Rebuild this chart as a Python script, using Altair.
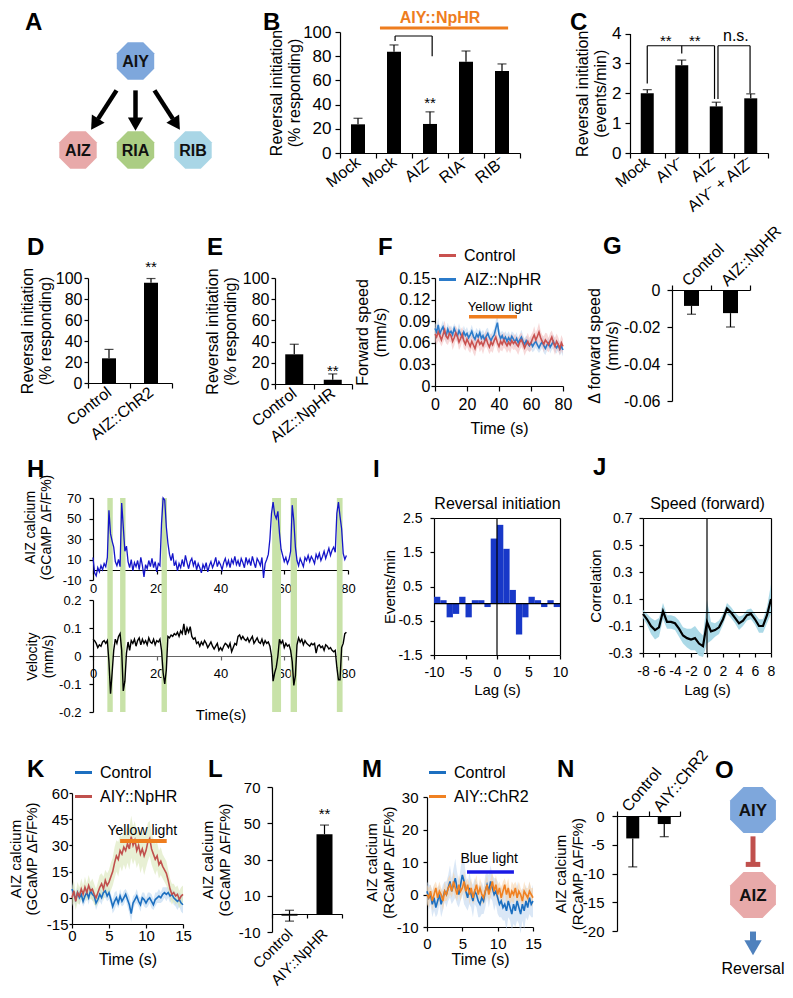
import math
import altair as alt
import pandas as pd

FONT = "Liberation Sans"
W, H = 777, 982

# ------------------------------------------------------------------ data
A_nodes = ["AIY", "AIZ", "RIA", "RIB"]
A_col = [1, 0, 1, 2]
A_row = [0, 1, 1, 1]
A_colors = ["#7ea7dc", "#e8a9a9", "#abcd83", "#a9d6e6"]
A_targets = ["AIZ", "RIA", "RIB"]

B_cats = ["Mock", "Mock2", "AIZ⁻", "RIA⁻", "RIB⁻"]
B_vals = [23.7, 83.7, 24.0, 75.5, 67.8]
B_errs = [5.0, 5.6, 10.0, 8.8, 5.8]

C_cats = ["Mock", "AIY⁻", "AIZ⁻", "AIY⁻ + AIZ⁻"]
C_vals = [2.0, 2.94, 1.56, 1.83]
C_errs = [0.12, 0.17, 0.14, 0.15]

D_cats = ["Control", "AIZ::ChR2"]
D_vals = [23.5, 95.5]
D_errs = [8.5, 4.0]

E_cats = ["Control", "AIZ::NpHR"]
E_vals = [28.0, 4.0]
E_errs = [9.5, 5.5]

F_series = ["Control", "AIZ::NpHR"]
F_ctrl = [0.072, 0.068, 0.075, 0.070, 0.064, 0.071, 0.078, 0.069, 0.066, 0.073,
          0.070, 0.062, 0.067, 0.074, 0.069, 0.061, 0.066, 0.072, 0.063, 0.058,
          0.065, 0.060, 0.055, 0.062, 0.057, 0.052, 0.060, 0.064, 0.058, 0.061,
          0.056, 0.062, 0.066, 0.059, 0.054, 0.061, 0.057, 0.063, 0.068, 0.060,
          0.055, 0.062, 0.058, 0.064, 0.060, 0.056, 0.061, 0.057, 0.063, 0.059,
          0.062, 0.058, 0.055, 0.061, 0.064, 0.059, 0.053, 0.058, 0.062, 0.057,
          0.060, 0.066, 0.071, 0.064, 0.069, 0.075, 0.067, 0.062, 0.058, 0.064,
          0.061, 0.057, 0.063, 0.068, 0.060, 0.055, 0.062, 0.058, 0.052, 0.060,
          0.055]
F_ctrl_sem = [0.010, 0.011, 0.012, 0.010, 0.009, 0.011, 0.013, 0.010, 0.009, 0.011,
              0.010, 0.012, 0.011, 0.010, 0.009, 0.011, 0.012, 0.010, 0.011, 0.009,
              0.010, 0.011, 0.009, 0.010, 0.012, 0.011, 0.010, 0.009, 0.011, 0.010,
              0.012, 0.010, 0.011, 0.009, 0.010, 0.012, 0.011, 0.010, 0.009, 0.011,
              0.010, 0.012, 0.010, 0.011, 0.009, 0.010, 0.011, 0.012, 0.010, 0.009,
              0.011, 0.010, 0.012, 0.011, 0.010, 0.009, 0.011, 0.010, 0.012, 0.010,
              0.011, 0.009, 0.012, 0.010, 0.011, 0.013, 0.010, 0.009, 0.011, 0.010,
              0.012, 0.010, 0.011, 0.009, 0.010, 0.012, 0.011, 0.010, 0.009, 0.011,
              0.010]
F_nphr = [0.080, 0.075, 0.085, 0.072, 0.078, 0.082, 0.074, 0.070, 0.079, 0.073,
          0.076, 0.071, 0.080, 0.074, 0.069, 0.077, 0.072, 0.068, 0.075, 0.070,
          0.073, 0.067, 0.071, 0.076, 0.069, 0.065, 0.072, 0.068, 0.074, 0.066,
          0.070, 0.064, 0.069, 0.073, 0.067, 0.063, 0.068, 0.071, 0.080, 0.088,
          0.072, 0.066, 0.070, 0.064, 0.068, 0.062, 0.067, 0.063, 0.069, 0.065,
          0.061, 0.066, 0.060, 0.064, 0.068, 0.062, 0.058, 0.063, 0.059, 0.056,
          0.060, 0.055, 0.059, 0.062, 0.057, 0.053, 0.058, 0.061, 0.056, 0.052,
          0.057, 0.060, 0.054, 0.058, 0.062, 0.056, 0.053, 0.057, 0.051, 0.055,
          0.050]
F_nphr_sem = [0.008, 0.009, 0.010, 0.008, 0.007, 0.009, 0.008, 0.010, 0.009, 0.008,
              0.008, 0.009, 0.007, 0.008, 0.009, 0.010, 0.008, 0.007, 0.009, 0.008,
              0.009, 0.008, 0.007, 0.009, 0.008, 0.010, 0.009, 0.008, 0.007, 0.009,
              0.008, 0.009, 0.010, 0.008, 0.007, 0.009, 0.008, 0.009, 0.011, 0.012,
              0.009, 0.008, 0.007, 0.009, 0.008, 0.010, 0.009, 0.008, 0.007, 0.009,
              0.008, 0.009, 0.007, 0.008, 0.010, 0.009, 0.008, 0.007, 0.009, 0.008,
              0.009, 0.008, 0.010, 0.009, 0.008, 0.007, 0.009, 0.008, 0.010, 0.009,
              0.008, 0.007, 0.009, 0.008, 0.010, 0.009, 0.008, 0.007, 0.009, 0.008,
              0.009]
F_light = [21.25, 51.25]

G_cats = ["Control", "AIZ::NpHR"]
G_vals = [-0.0086, -0.0125]
G_errs = [0.0045, 0.0075]

H_ca = [12, -3, -6, 2, -2, 4, 0, 6, 3, 12,
        58, 35, 28, 22, 8, 4, 10, 3, 65, 42,
        18, 23, 8, 2, 10, -1, 7, 3, 9, 0,
        12, 4, -7, 5, 1, 9, 3, 11, 2, 8,
        -2, 6, 4, 45, 70, 68, 42, 26, 15, 9,
        16, 4, 8, -1, 6, 2, 10, 3, 14, 7,
        1, 8, 11, 4, 9, 0, 6, 2, -3, 5,
        1, 7, -2, 4, 8, 2, 6, 12, 3, 8,
        5, 0, 7, 11, 4, 9, 2, 10, 6, 13,
        5, 9, 3, 11, 7, 2, 12, 6, 10, 4,
        13, 7, 2, 11, 8, 4, 12, -8, 6, 10,
        15, 30, 55, 66, 54, 50, 57, 36, 20, 14,
        8, 12, 6, 10, 18, 63, 48, 22, 9, 4,
        11, 7, 3, 12, 9, 14, 8, 13, 10, 6,
        15, 11, 16, 9, 13, 18, 11, 16, 21, 14,
        19, 22, 17, 55, 66, 52, 40, 16, 10, 14]
H_vel = [0.060, 0.055, 0.045, 0.030, 0.040, 0.035, 0.050, 0.055, 0.045, 0.055,
         -0.020, -0.135, -0.060, 0.020, 0.060, 0.045, 0.070, 0.080, 0.020, -0.125,
         -0.090, 0.010, 0.050, 0.020, 0.055, 0.045, 0.060, 0.035, 0.055, 0.065,
         0.040, 0.060, 0.045, 0.055, 0.040, 0.065, 0.050, 0.045, 0.060, 0.040,
         0.055, 0.050, 0.060, 0.020, -0.060, -0.100, -0.050, 0.070, 0.065, 0.075,
         0.070, 0.080, 0.075, 0.085, 0.070, 0.090, 0.080, 0.115, 0.075, 0.100,
         0.085, 0.105, 0.070, 0.060, 0.065, 0.045, 0.050, 0.035, 0.050, 0.040,
         0.055, 0.045, 0.030, 0.040, 0.050, 0.035, 0.025, 0.035, 0.045, 0.020,
         0.030, 0.020, 0.035, 0.045, 0.040, 0.030, 0.045, 0.015, 0.030, 0.045,
         0.040, 0.070, 0.075, 0.060, 0.070, 0.060, 0.055, 0.065, 0.050, 0.060,
         0.070, 0.045, 0.055, 0.065, 0.050, 0.045, 0.060, 0.040, 0.055, 0.045,
         0.050, 0.035, 0.000, -0.090, -0.060, -0.040, 0.000, 0.060, 0.045, 0.055,
         0.030, 0.045, 0.035, 0.040, 0.020, -0.020, -0.105, -0.070, 0.040, 0.065,
         0.050, 0.060, 0.040, 0.055, 0.045, 0.040, 0.035, 0.045, 0.040, 0.045,
         0.010, 0.035, 0.040, 0.030, 0.035, 0.020, 0.040, 0.035, 0.025, 0.030,
         0.020, 0.015, 0.020, -0.040, -0.085, -0.085, 0.030, 0.045, 0.080, 0.085]
H_band_start = [4.5, 8.5, 21.5, 56.2, 62.0, 76.5]
H_band_end = [6.2, 10.2, 23.2, 59.0, 64.0, 78.3]

I_bin_start = list(range(-10, 10))
I_vals = [0.2, 0.1, -0.4, -0.3, 0.2, -0.4, 0.1, 0.1, -0.1, 1.9,
          2.3, 1.6, 0.4, -0.9, -0.4, 0.2, 0.1, -0.1, 0.1, -0.1]

J_lag = [-8 + 0.5 * i for i in range(33)]
J_corr = [-0.01, -0.05, -0.10, -0.13, -0.11, 0.01, -0.07, -0.07, -0.08, -0.12,
          -0.17, -0.19, -0.20, -0.19, -0.23, -0.25, -0.07, -0.14, -0.13, -0.11,
          -0.05, 0.03, 0.00, -0.04, -0.08, -0.06, -0.02, -0.01, -0.05, -0.10,
          -0.10, -0.02, 0.10]
J_sem = [0.03, 0.04, 0.06, 0.07, 0.07, 0.06, 0.05, 0.05, 0.05, 0.06,
         0.06, 0.07, 0.08, 0.09, 0.09, 0.08, 0.16, 0.07, 0.05, 0.05,
         0.04, 0.04, 0.04, 0.04, 0.05, 0.04, 0.04, 0.04, 0.04, 0.05,
         0.05, 0.06, 0.11]

K_series = ["Control", "AIY::NpHR"]
K_ctrl = [5, 2, -1, 3, 0, 2, -2, 1, 3, 0,
          4, 2, 1, -3, -1, 2, 0, 3, 4, 1,
          3, -1, -5, -2, 0, -3, 1, -2, 0, 2,
          -1, -4, -9, -3, -1, 1, -2, -4, 0, -1,
          -3, -1, 0, -2, -4, -1, 0, 1, 0, 2,
          3, 2, 3, 1, 2, 0, -1, -2, -1, -3,
          -4]
K_ctrl_sem = [4, 3, 4, 3, 4, 3, 3, 4, 3, 4,
              3, 4, 3, 4, 3, 4, 4, 3, 4, 3,
              4, 3, 4, 5, 4, 3, 4, 3, 4, 3,
              4, 5, 5, 4, 3, 4, 3, 4, 3, 4,
              3, 4, 3, 4, 3, 4, 3, 4, 3, 4,
              3, 4, 3, 4, 3, 4, 4, 5, 4, 5,
              5]
K_nphr = [0, 4, -2, 3, 1, 5, 2, 6, 3, 7,
          4, 5, 2, 0, 3, 6, 8, 5, 10, 7,
          9, 12, 15, 20, 24, 22, 27, 25, 29, 27,
          31, 28, 35, 30, 33, 27, 30, 25, 28, 24,
          27, 32, 34, 28, 25, 22, 24, 19, 21, 18,
          16, 14, 10, 5, 2, 3, 1, 2, -1, 1,
          2]
K_nphr_sem = [5, 6, 5, 6, 5, 6, 5, 6, 5, 6,
              5, 6, 6, 5, 6, 7, 6, 7, 6, 7,
              7, 8, 8, 9, 9, 10, 9, 10, 10, 11,
              11, 12, 12, 11, 11, 10, 10, 11, 10, 11,
              10, 11, 10, 9, 9, 9, 8, 8, 8, 7,
              7, 7, 6, 6, 6, 5, 5, 5, 5, 5,
              5]
K_light = [6.5, 12.8]

L_cats = ["Control", "AIY::NpHR"]
L_vals = [-1.0, 44.0]
L_errs = [3.0, 5.0]

M_series = ["Control", "AIY::ChR2"]
M_ctrl = [1, -1, 0, -3, -1, -4, -2, 0, -3, -1,
          1, 0, 2, 4, 1, 3, 5, 2, 0, 3,
          6, 4, 1, -1, 2, 0, -2, 1, 0, -2,
          -3, -1, -2, 1, 3, 1, 4, 2, 0, 1,
          -1, -3, -2, -4, -3, -5, -2, -4, -6, -3,
          -5, -2, -4, -6, -3, -5, -2, -4, -1, -3,
          -2]
M_ctrl_sem = [3, 4, 3, 4, 4, 3, 4, 3, 4, 4,
              3, 4, 4, 5, 4, 5, 6, 5, 4, 5,
              6, 7, 5, 4, 5, 4, 5, 4, 4, 5,
              4, 5, 4, 5, 4, 5, 5, 4, 5, 4,
              5, 4, 5, 4, 5, 6, 5, 4, 5, 6,
              5, 6, 5, 6, 5, 6, 5, 4, 5, 4,
              5]
M_chr2 = [0, -1, 1, -2, 0, 2, -1, 1, 0, -2,
          1, 0, 2, 3, 1, 4, 2, 0, 3, 1,
          2, 4, 1, 3, 0, 2, -1, 1, 3, 0,
          2, 0, -1, 1, 3, 0, 2, 4, 1, 3,
          0, 2, -1, 1, 3, 0, 2, -1, 1, 0,
          2, -1, 1, 0, -2, 1, 0, -1, 1, 0,
          -1]
M_chr2_sem = [3, 3, 2, 3, 3, 2, 3, 3, 2, 3,
              3, 2, 3, 3, 2, 3, 3, 2, 3, 3,
              2, 3, 3, 2, 3, 3, 2, 3, 3, 2,
              3, 3, 2, 3, 3, 2, 3, 3, 2, 3,
              3, 2, 3, 3, 2, 3, 3, 2, 3, 3,
              2, 3, 3, 2, 3, 3, 2, 3, 3, 2,
              3]
M_light = [5.66, 12.3]

N_cats = ["Control", "AIY::ChR2"]
N_vals = [-3.9, -1.4]
N_errs = [4.95, 2.2]

O_nodes = ["AIY", "AIZ"]
O_rows = [0, 1]
O_colors = ["#7ea7dc", "#e8a9a9"]
O_output = "Reversal"

# ------------------------------------------------------------------ helpers
NUM_LABEL = "'' + datum.value"
OCT = "M-0.414,-1L0.414,-1L1,-0.414L1,0.414L0.414,1L-0.414,1L-1,0.414L-1,-0.414Z"


def tx(v):
    return v - 8


def ty(v):
    return v - 8


def lin(dom, a, b):
    return alt.Scale(domain=dom, range=[a, b], nice=False, zero=False)


def xlin(dom, x0, x1):
    return lin(dom, tx(x0), tx(x1))


def ylin(dom, y_bottom, y_top):
    return lin(dom, ty(y_bottom), ty(y_top))


def xband(cats, x0, x1):
    return alt.Scale(domain=cats, range=[tx(x0), tx(x1)], paddingInner=0, paddingOuter=0)


def axis(orient, pos, title=None, fs=16, tfs=16, lh=None, **kw):
    if orient == "left":
        off = -tx(pos)
    elif orient == "right":
        off = tx(pos) - W
    elif orient == "bottom":
        off = ty(pos) - H
    else:
        off = -ty(pos)
    lh = lh if lh is not None else tfs + 2
    # a multi-line left title is anchored at its first line: shift so the
    # requested titleX is the right edge of the whole block
    if orient == "left" and isinstance(title, list) and "titleX" in kw:
        kw["titleX"] = kw["titleX"] - (len(title) - 1) * lh
    d = dict(orient=orient, offset=off, grid=False, domainColor="black",
             tickColor="black", labelColor="black", labelFont=FONT,
             labelFontSize=fs, titleFont=FONT, titleFontSize=tfs,
             titleFontWeight="normal", titleColor="black", tickSize=5,
             labelPadding=3, labelFlush=False, labelOverlap=False,
             titleLineHeight=lh, domainWidth=1.2, tickWidth=1.2,
             title=title)
    d.update(kw)
    return alt.Axis(**d)


def qaxis(orient, pos, title=None, fs=16, tfs=16, **kw):
    return axis(orient, pos, title=title, fs=fs, tfs=tfs, labelExpr=NUM_LABEL, **kw)


def bar_panel(cats, vals, errs, xs, ys, xax, yax, size, cap=9, dirs=None):
    n = len(cats)
    dirs = dirs or ["up"] * n
    df = pd.DataFrame({"cat": cats, "v": vals, "z": [0.0] * n})
    tips = []
    for c, v, e, d in zip(cats, vals, errs, dirs):
        if d in ("up", "both"):
            tips.append({"cat": c, "v": v, "tip": v + e})
        if d in ("down", "both"):
            tips.append({"cat": c, "v": v, "tip": v - e})
    dt = pd.DataFrame(tips)
    rule = alt.Chart(dt).mark_rule(color="black", strokeWidth=1.2).encode(
        x=alt.X("cat:N", scale=xs, axis=None),
        y=alt.Y("v:Q", scale=ys, axis=None), y2="tip")
    bars = alt.Chart(df).mark_bar(color="black", size=size).encode(
        x=alt.X("cat:N", scale=xs, axis=xax),
        y=alt.Y("v:Q", scale=ys, axis=yax), y2="z")
    capm = alt.Chart(dt).mark_tick(color="black", size=cap, thickness=1.2,
                                   orient="horizontal").encode(
        x=alt.X("cat:N", scale=xs, axis=None),
        y=alt.Y("tip:Q", scale=ys, axis=None))
    return [rule, bars, capm]


def segs(df, xs, ys, **mk):
    return alt.Chart(df).mark_rule(**mk).encode(
        x=alt.X("x0:Q", scale=xs, axis=None), x2="x1",
        y=alt.Y("y0:Q", scale=ys, axis=None), y2="y1")


def texts(df, xs, ys, xtype="Q", **mk):
    return alt.Chart(df).mark_text(font=FONT, **mk).encode(
        x=alt.X("x:" + xtype, scale=xs, axis=None),
        y=alt.Y("y:Q", scale=ys, axis=None), text="txt:N")


def trace_panel(order, draw, data, colors, band_colors, xs, ys, xax, yax,
                legend, sw=1.6, band_opacity=0.55):
    rows = []
    for name in draw:
        ts, vs, ss = data[name]
        for t, v, s in zip(ts, vs, ss):
            rows.append({"t": t, "v": v, "s": s, "series": name})
    df = pd.DataFrame(rows)
    band = alt.Chart(df).transform_calculate(
        lo="datum.v - datum.s", hi="datum.v + datum.s").mark_area(
        opacity=band_opacity).encode(
        x=alt.X("t:Q", scale=xs, axis=xax),
        y=alt.Y("lo:Q", scale=ys, axis=yax), y2="hi",
        fill=alt.Fill("series:N", scale=alt.Scale(domain=order, range=band_colors),
                      legend=None))
    line = alt.Chart(df).mark_line(strokeWidth=sw).encode(
        x=alt.X("t:Q", scale=xs, axis=None),
        y=alt.Y("v:Q", scale=ys, axis=None),
        color=alt.Color("series:N", scale=alt.Scale(domain=order, range=colors),
                        legend=legend))
    return [band, line]


def legend_at(x, y):
    return alt.Legend(orient="none", legendX=tx(x), legendY=ty(y), title=None,
                      symbolType="stroke", symbolStrokeWidth=3, symbolSize=290,
                      labelFont=FONT, labelFontSize=16, labelColor="black",
                      rowPadding=5, labelOffset=6, padding=0)


def stars(cat, v, xs, ys, size=15):
    df = pd.DataFrame({"x": [cat], "y": [v], "txt": ["**"]})
    return texts(df, xs, ys, xtype="N", fontSize=size, baseline="middle", dy=3,
                 color="black")


def letter(ch, x, y):
    return alt.Chart(pd.DataFrame({"t": [ch]})).mark_text(
        font=FONT, fontSize=24, fontWeight="bold", align="left",
        baseline="alphabetic", color="black").encode(
        text="t:N", x=alt.value(tx(x)), y=alt.value(ty(y)))


layers = []

# ------------------------------------------------------------------ A (diagram)
A_x = xlin([0, 2], 78, 193)
A_y = lin([0, 1], ty(61), ty(150))
ux, uy = (193 - 78) / 2, (150 - 61) / 1
arr = []
pc, pr = A_col[0], A_row[0]
for name in A_targets:
    i = A_nodes.index(name)
    dc, dr = A_col[i] - pc, A_row[i] - pr
    ang = math.degrees(math.atan2(-dc * ux, dr * uy)) % 360
    arr.append(dict(x0=pc + 0.33 * dc, y0=pr + 0.33 * dr,
                    x1=pc + 0.65 * dc, y1=pr + 0.65 * dr,
                    hx=pc + 0.71 * dc, hy=pr + 0.71 * dr, ang=ang))
dfA_arr = pd.DataFrame(arr)
layers.append(segs(dfA_arr, A_x, A_y, color="black", strokeWidth=4.5))
layers.append(alt.Chart(dfA_arr).mark_point(shape="triangle-down", filled=True,
                                            size=230, color="black", opacity=1).encode(
    x=alt.X("hx:Q", scale=A_x, axis=None), y=alt.Y("hy:Q", scale=A_y, axis=None),
    angle=alt.Angle("ang:Q", scale=None)))
dfA = pd.DataFrame({"node": A_nodes, "c": A_col, "r": A_row})
layers.append(alt.Chart(dfA).mark_point(shape=OCT, filled=True, size=1400, opacity=1).encode(
    x=alt.X("c:Q", scale=A_x, axis=None), y=alt.Y("r:Q", scale=A_y, axis=None),
    color=alt.Color("node:N", scale=alt.Scale(domain=A_nodes, range=A_colors), legend=None)))
layers.append(alt.Chart(dfA).mark_text(font=FONT, fontSize=16, fontWeight="bold",
                                       color="#111111", dy=1).encode(
    x=alt.X("c:Q", scale=A_x, axis=None), y=alt.Y("r:Q", scale=A_y, axis=None),
    text="node:N"))

# ------------------------------------------------------------------ B
bx = xband(B_cats, 340, 520)
by = ylin([0, 100], 153, 32)
xB = axis("bottom", 153, fs=16, labelAngle=-38, labelAlign="right",
          labelBaseline="middle", tickBand="extent", labelPadding=2,
          labelExpr="datum.value == 'Mock2' ? 'Mock' : datum.value")
yB = qaxis("left", 340, title=["Reversal initiation", "(% responding)"], fs=17,
           tfs=16, values=[0, 20, 40, 60, 80, 100], titleX=302 - 340, labelPadding=4)
layers += bar_panel(B_cats, B_vals, B_errs, bx, by, xB, yB, size=14)
B_idx = xlin([0, 5], 340, 520)
layers.append(segs(pd.DataFrame({"x0": [1.53, 1.53, 2.56], "x1": [1.53, 2.56, 2.56],
                                 "y0": [92.5, 96.7, 96.7], "y1": [96.7, 96.7, 80.0]}),
                   B_idx, by, color="black", strokeWidth=1.2))
layers.append(segs(pd.DataFrame({"x0": [1.11], "x1": [4.67], "y0": [103.3], "y1": [103.3]}),
                   B_idx, by, color="#ee7d1e", strokeWidth=3))
layers.append(texts(pd.DataFrame({"x": [2.78], "y": [111.8], "txt": ["AIY::NpHR"]}),
                    B_idx, by, fontSize=16, fontWeight="bold", color="#ee7d1e",
                    baseline="middle"))
layers.append(stars("AIZ⁻", 43.8, bx, by))

# ------------------------------------------------------------------ C
cx = xband(C_cats, 630, 768)
cy = ylin([0, 4], 153, 33.5)
xC = axis("bottom", 153, fs=16, labelAngle=-38, labelAlign="right",
          labelBaseline="middle", tickBand="extent", labelPadding=2)
yC = qaxis("left", 630, title=["Reversal initiation", "(events/min)"], fs=17, tfs=16,
           values=[0, 1, 2, 3, 4], titleX=608 - 630, labelPadding=4)
layers += bar_panel(C_cats, C_vals, C_errs, cx, cy, xC, yC, size=13)
C_idx = xlin([0, 4], 630, 768)
layers.append(segs(pd.DataFrame({
    "x0": [0.5, 0.5, 2.45, 1.5, 2.55, 2.55, 3.48],
    "x1": [0.5, 2.45, 2.45, 1.5, 2.55, 3.48, 3.48],
    "y0": [2.33, 3.59, 3.59, 3.33, 1.81, 3.59, 3.59],
    "y1": [3.59, 3.59, 1.81, 3.59, 3.59, 3.59, 2.0]}), C_idx, cy, color="black",
    strokeWidth=1.2))
layers.append(texts(pd.DataFrame({"x": [1.04, 1.88], "y": [3.86, 3.86], "txt": ["**", "**"]}),
                    C_idx, cy, fontSize=15, baseline="middle", dy=3, color="black"))
layers.append(texts(pd.DataFrame({"x": [3.07], "y": [3.9], "txt": ["n.s."]}),
                    C_idx, cy, fontSize=16, baseline="middle", color="black"))

# ------------------------------------------------------------------ D
dx_ = xband(D_cats, 88, 172)
dy_ = ylin([0, 100], 383, 278)
xD = axis("bottom", 383, fs=16, labelAngle=-38, labelAlign="right",
          labelBaseline="middle", tickBand="extent", labelPadding=2)
yD = qaxis("left", 88, title=["Reversal initiation", "(% responding)"], fs=16, tfs=16,
           values=[0, 20, 40, 60, 80, 100], titleX=53 - 88, tickSize=4, labelPadding=2)
layers += bar_panel(D_cats, D_vals, D_errs, dx_, dy_, xD, yD, size=14)
layers.append(stars("AIZ::ChR2", 113, dx_, dy_))

# ------------------------------------------------------------------ E
ex = xband(E_cats, 275, 352)
ey = ylin([0, 100], 384, 278)
xE = axis("bottom", 384, fs=16, labelAngle=-38, labelAlign="right",
          labelBaseline="middle", tickBand="extent", labelPadding=2)
yE = qaxis("left", 275, title=["Reversal initiation", "(% responding)"], fs=16, tfs=16,
           values=[0, 20, 40, 60, 80, 100], titleX=238 - 275, tickSize=4, labelPadding=2)
layers += bar_panel(E_cats, E_vals, E_errs, ex, ey, xE, yE, size=18)
layers.append(stars("AIZ::NpHR", 15, ex, ey))

# ------------------------------------------------------------------ F
fx = xlin([0, 80], 435, 563)
fy = ylin([0, 0.15], 386, 278)
xF = qaxis("bottom", 386, title="Time (s)", fs=16, tfs=16, values=[0, 20, 40, 60, 80],
           labelPadding=5, titleY=34)
yF = qaxis("left", 435, title=["Forward speed", "(mm/s)"], fs=16, tfs=16,
           values=[0, 0.03, 0.06, 0.09, 0.12, 0.15], titleX=-47, tickSize=4, labelPadding=1)
t81 = list(range(len(F_ctrl)))
layers += trace_panel(F_series, ["AIZ::NpHR", "Control"],
                      {"Control": (t81, F_ctrl, F_ctrl_sem),
                       "AIZ::NpHR": (t81, F_nphr, F_nphr_sem)},
                      ["#c9514f", "#2b7bca"], ["#f1b9b9", "#b9d3ee"], fx, fy, xF, yF,
                      legend_at(437, 245))
layers.append(segs(pd.DataFrame({"x0": [F_light[0]], "x1": [F_light[1]],
                                 "y0": [0.0963], "y1": [0.0963]}),
                   fx, fy, color="#ee7d1e", strokeWidth=3.5))
layers.append(texts(pd.DataFrame({"x": [40.6], "y": [0.1095], "txt": ["Yellow light"]}),
                    fx, fy, fontSize=13, baseline="middle", color="black"))

# ------------------------------------------------------------------ G
gx = xband(G_cats, 672, 750)
gy = ylin([-0.06, 0], 401, 290)
xG = axis("top", 290, fs=16, labelAngle=-45, labelAlign="left", labelBaseline="middle",
          tickBand="extent", labelPadding=2, labelOffset=-7)
yG = qaxis("left", 672, title=["Δ forward speed", "(mm/s)"], fs=16, tfs=16,
           values=[0, -0.02, -0.04, -0.06], titleX=-52, labelPadding=7)
layers += bar_panel(G_cats, G_vals, G_errs, gx, gy, xG, yG, size=15, dirs=["down", "down"])

# ------------------------------------------------------------------ H
hx = xlin([0, 80], 93, 348)
h1y = ylin([-10, 70], 580, 498)
h2y = ylin([-0.2, 0.2], 712, 600)
hb_y = lin([0, 1], ty(712), ty(498))
dfHb = pd.DataFrame({"s": H_band_start, "e": H_band_end})
layers.append(alt.Chart(dfHb).mark_rect(color="#c8e2a8", opacity=1).encode(
    x=alt.X("s:Q", scale=hx, axis=None), x2="e",
    y=alt.YDatum(0, scale=hb_y, axis=None, type="quantitative"), y2=alt.Y2Datum(1)))
tH = [0.5 * i for i in range(len(H_ca))]
xH1 = qaxis("bottom", 570, fs=13, values=[0, 20, 40, 60, 80], tickSize=4, labelPadding=8)
yH1 = qaxis("left", 93, title=["AIZ calcium", "(GCaMP ΔF/F%)"], fs=13, tfs=14,
            values=[-10, 10, 30, 50, 70], titleX=-40, titleY=ty(527), tickSize=4,
            labelPadding=8)
layers.append(alt.Chart(pd.DataFrame({"t": tH, "v": H_ca})).mark_line(
    color="#1515c9", strokeWidth=1.3).encode(
    x=alt.X("t:Q", scale=hx, axis=xH1), y=alt.Y("v:Q", scale=h1y, axis=yH1)))
tV = [0.5 * i for i in range(len(H_vel))]
xH2 = qaxis("bottom", 656, title="Time(s)", fs=13, tfs=15, values=[0, 20, 40, 60, 80],
            tickSize=4, labelPadding=7, domainColor="#666666", tickColor="#666666",
            titleY=51)
yH2 = qaxis("left", 93, title=["Velocity", "(mm/s)"], fs=13, tfs=14,
            values=[-0.2, -0.1, 0, 0.1, 0.2], titleX=-38, tickSize=4, labelPadding=8)
layers.append(alt.Chart(pd.DataFrame({"t": tV, "v": H_vel})).mark_line(
    color="black", strokeWidth=1.4).encode(
    x=alt.X("t:Q", scale=hx, axis=xH2), y=alt.Y("v:Q", scale=h2y, axis=yH2)))

# ------------------------------------------------------------------ I
ix = xlin([-10, 10], 434, 560)
iy = ylin([-1.5, 2.5], 655, 518)
dfI = pd.DataFrame({"s": I_bin_start, "e": [s + 1 for s in I_bin_start], "v": I_vals,
                    "z": [0.0] * len(I_vals)})
xI = qaxis("bottom", 655, title="Lag (s)", fs=14, tfs=15, values=[-10, -5, 0, 5, 10],
           tickSize=4, labelPadding=6, titleY=27)
yI = qaxis("left", 434, title="Events/min", fs=14, tfs=15,
           values=[-1.5, -0.5, 0.5, 1.5, 2.5], titleX=-37, tickSize=4, labelPadding=8)
layers.append(alt.Chart(dfI).mark_rect(color="#1838c8").encode(
    x=alt.X("s:Q", scale=ix, axis=xI), x2="e",
    y=alt.Y("v:Q", scale=iy, axis=yI), y2="z"))
layers.append(segs(pd.DataFrame({"x0": [-10, 0], "x1": [10, 0], "y0": [0, -1.5],
                                 "y1": [0, 2.5]}), ix, iy, color="black", strokeWidth=1.2))
layers.append(alt.Chart(pd.DataFrame({"a": [0]})).mark_point(opacity=0).encode(
    x=alt.X("a:Q", scale=ix, axis=axis("top", 518, title="Reversal initiation", tfs=16,
                                       labels=False, ticks=False, titlePadding=7)),
    y=alt.Y("a:Q", scale=iy, axis=axis("right", 560, labels=False, ticks=False))))

# ------------------------------------------------------------------ J
jx = xlin([-8, 8], 643, 771)
jy = ylin([-0.3, 0.7], 653, 518)
dfJ = pd.DataFrame({"t": J_lag, "v": J_corr, "s": J_sem})
xJ = qaxis("bottom", 653, title="Lag (s)", fs=14, tfs=15,
           values=[-8, -6, -4, -2, 0, 2, 4, 6, 8], tickSize=4, labelPadding=7, titleY=29)
yJ = qaxis("left", 643, title="Correlation", fs=14, tfs=15,
           values=[-0.3, -0.1, 0.1, 0.3, 0.5, 0.7], titleX=-40, tickSize=4, labelPadding=7)
layers.append(alt.Chart(dfJ).transform_calculate(
    lo="datum.v - datum.s", hi="datum.v + datum.s").mark_area(
    color="#a7d7e6", opacity=0.95).encode(
    x=alt.X("t:Q", scale=jx, axis=xJ), y=alt.Y("lo:Q", scale=jy, axis=yJ), y2="hi"))
layers.append(segs(pd.DataFrame({"x0": [-8, 0], "x1": [8, 0], "y0": [0, -0.3],
                                 "y1": [0, 0.7]}), jx, jy, color="black", strokeWidth=1.2))
layers.append(alt.Chart(dfJ).mark_line(color="black", strokeWidth=2.2).encode(
    x=alt.X("t:Q", scale=jx, axis=None), y=alt.Y("v:Q", scale=jy, axis=None)))
layers.append(alt.Chart(pd.DataFrame({"a": [0]})).mark_point(opacity=0).encode(
    x=alt.X("a:Q", scale=jx, axis=axis("top", 518, title="Speed (forward)", tfs=16,
                                       labels=False, ticks=False, titlePadding=7)),
    y=alt.Y("a:Q", scale=jy, axis=axis("right", 771, labels=False, ticks=False))))

# ------------------------------------------------------------------ K
kx = xlin([0, 15], 72, 183)
ky = ylin([-15, 60], 924, 793)
xK = qaxis("bottom", 924, title="Time (s)", fs=15, tfs=16, values=[0, 5, 10, 15],
           tickSize=4, labelPadding=0, titleY=27)
yK = qaxis("left", 72, title=["AIZ calcium", "(GCaMP ΔF/F%)"], fs=15, tfs=15, lh=16,
           values=[-15, 0, 15, 30, 45, 60], titleX=-33, tickSize=3, labelPadding=1)
tK = [0.25 * i for i in range(len(K_ctrl))]
layers += trace_panel(K_series, ["Control", "AIY::NpHR"],
                      {"Control": (tK, K_ctrl, K_ctrl_sem),
                       "AIY::NpHR": (tK, K_nphr, K_nphr_sem)},
                      ["#1c6fc0", "#c0504d"], ["#b3d1ee", "#d5e4b1"], kx, ky, xK, yK,
                      legend_at(73, 762))
layers.append(segs(pd.DataFrame({"x0": [K_light[0]], "x1": [K_light[1]], "y0": [32.5],
                                 "y1": [32.5]}), kx, ky, color="#ee7d1e", strokeWidth=4))
layers.append(texts(pd.DataFrame({"x": [9.5], "y": [38.0], "txt": ["Yellow light"]}),
                    kx, ky, fontSize=14, baseline="middle", color="black"))

# ------------------------------------------------------------------ L
lx = xband(L_cats, 272, 342)
ly = ylin([-10, 70], 932, 787)
xL = axis("bottom", 914, fs=15, labelAngle=-45, labelAlign="right",
          labelBaseline="middle", tickBand="extent", tickSize=4, labelPadding=13)
yL = qaxis("left", 272, title=["AIZ calcium", "(GCaMP ΔF/F%)"], fs=15, tfs=15,
           values=[-10, 10, 30, 50, 70], titleX=-40, labelPadding=7)
layers += bar_panel(L_cats, L_vals, L_errs, lx, ly, xL, yL, size=16,
                    dirs=["both", "up"])
layers.append(stars("AIY::NpHR", 57, lx, ly))

# ------------------------------------------------------------------ M
mx = xlin([0, 15], 427, 533)
my = ylin([-10, 30], 927, 797)
xM = qaxis("bottom", 927, title="Time (s)", fs=15, tfs=16, values=[0, 5, 10, 15],
           tickSize=4, labelPadding=5, titleY=24)
yM = qaxis("left", 427, title=["AIZ calcium", "(RCaMP ΔF/F%)"], fs=15, tfs=15,
           values=[-10, 0, 10, 20, 30], titleX=-31, tickSize=4, labelPadding=5)
tM = [0.25 * i for i in range(len(M_ctrl))]
layers += trace_panel(M_series, ["Control", "AIY::ChR2"],
                      {"Control": (tM, M_ctrl, M_ctrl_sem),
                       "AIY::ChR2": (tM, M_chr2, M_chr2_sem)},
                      ["#1c6fc0", "#f08122"], ["#bcd4ee", "#f8cfa2"], mx, my, xM, yM,
                      legend_at(427, 762))
layers.append(segs(pd.DataFrame({"x0": [M_light[0]], "x1": [M_light[1]], "y0": [6.9],
                                 "y1": [6.9]}), mx, my, color="#1a1ae6", strokeWidth=3.5))
layers.append(texts(pd.DataFrame({"x": [8.8], "y": [10.8], "txt": ["Blue light"]}),
                    mx, my, fontSize=14, baseline="middle", color="black"))

# ------------------------------------------------------------------ N
nx = xband(N_cats, 617, 680)
ny = ylin([-20, 0], 931, 816)
xN = axis("top", 816, fs=16, labelAngle=-50, labelAlign="left", labelBaseline="middle",
          tickBand="extent", labelPadding=2, labelOffset=-8)
yN = qaxis("left", 617, title=["AIZ calcium", "(RCaMP ΔF/F%)"], fs=15, tfs=15,
           values=[0, -5, -10, -15, -20], titleX=-32, labelPadding=8)
layers += bar_panel(N_cats, N_vals, N_errs, nx, ny, xN, yN, size=13, dirs=["down", "down"])

# ------------------------------------------------------------------ O (diagram)
O_x = xlin([-1, 1], 731, 775)
O_y = lin([0, 2], ty(810), ty(980))
dfO = pd.DataFrame({"node": O_nodes, "r": O_rows, "c": [0] * len(O_nodes)})
layers.append(segs(pd.DataFrame({"x0": [0, -0.33], "x1": [0, 0.33], "y0": [0.31, 0.64],
                                 "y1": [0.64, 0.64]}), O_x, O_y, color="#c0504d",
                   strokeWidth=5))
layers.append(segs(pd.DataFrame({"x0": [0], "x1": [0], "y0": [1.43], "y1": [1.58]}),
                   O_x, O_y, color="#4f81bd", strokeWidth=6))
layers.append(alt.Chart(pd.DataFrame({"c": [0], "r": [1.62]})).mark_point(
    shape="triangle-down", filled=True, size=300, color="#4f81bd", opacity=1).encode(
    x=alt.X("c:Q", scale=O_x, axis=None), y=alt.Y("r:Q", scale=O_y, axis=None)))
layers.append(alt.Chart(dfO).mark_point(shape=OCT, filled=True, size=2100, opacity=1).encode(
    x=alt.X("c:Q", scale=O_x, axis=None), y=alt.Y("r:Q", scale=O_y, axis=None),
    color=alt.Color("node:N", scale=alt.Scale(domain=O_nodes, range=O_colors), legend=None)))
layers.append(alt.Chart(dfO).mark_text(font=FONT, fontSize=17, fontWeight="bold",
                                       color="#111111", dy=1).encode(
    x=alt.X("c:Q", scale=O_x, axis=None), y=alt.Y("r:Q", scale=O_y, axis=None),
    text="node:N"))
layers.append(alt.Chart(pd.DataFrame({"c": [0], "r": [1.97], "txt": [O_output]})).mark_text(
    font=FONT, fontSize=16, baseline="bottom", color="black").encode(
    x=alt.X("c:Q", scale=O_x, axis=None), y=alt.Y("r:Q", scale=O_y, axis=None),
    text="txt:N"))

# ------------------------------------------------------------------ panel letters
for ch, lxp, lyp in [("A", 25, 30), ("B", 263, 30), ("C", 570, 30), ("D", 27, 255),
                     ("E", 207, 255), ("F", 378, 255), ("G", 603, 254), ("H", 27, 477),
                     ("I", 373, 477), ("J", 593, 475), ("K", 27, 777), ("L", 208, 777),
                     ("M", 362, 777), ("N", 557, 777), ("O", 715, 778)]:
    layers.append(letter(ch, lxp, lyp))

chart = alt.layer(*layers).resolve_scale(
    x="independent", y="independent", color="independent", fill="independent"
).properties(width=W, height=H, padding=0,
             autosize=alt.AutoSizeParams(type="none")).configure_view(stroke=None)

chart.save("out.html", embed_options={"renderer": "svg", "actions": False})
